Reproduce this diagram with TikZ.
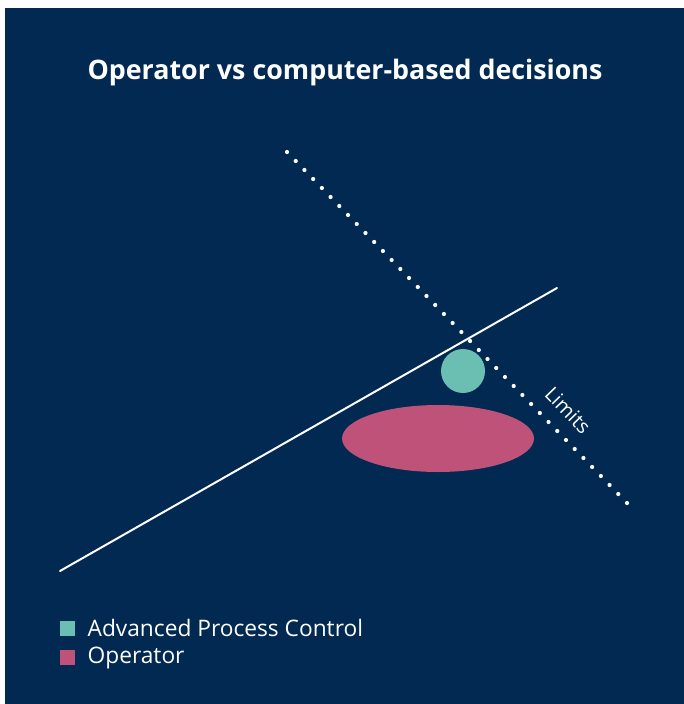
\documentclass[tikz,border=0pt]{standalone}
\usepackage{fontspec}
\setmainfont{Open Sans}
\usetikzlibrary{calc}
\definecolor{navy}{RGB}{1,41,82}
\definecolor{apcteal}{RGB}{107,190,178}
\definecolor{oprose}{RGB}{190,82,120}
\tikzset{
  keybox/.style={inner sep=0pt, minimum size=0.45cm},
  keytext/.style={anchor=west, text=white, font=\fontsize{19.4}{21}\selectfont},
}
\begin{document}
\begin{tikzpicture}[x=0.03cm, y=-0.03cm, line join=round, line cap=round]
	\def\w{684} \def\h{704} % page in px
	\useasboundingbox (0,0) rectangle (\w,\h);
	\fill[navy] (5,8) rectangle (\w,\h);
	\node[text=white, font=\bfseries\fontsize{22.9}{26}\selectfont] (title) at (345,73) {Operator vs computer-based decisions};
	% limits
	\coordinate (dA) at (287,152); \coordinate (dB) at (627,503);
	\foreach \i in {0,...,39} \fill[white] ($(dA)!\i/39!(dB)$) circle (2.1);
	\node[text=white, rotate=-46, inner sep=0pt, font=\fontsize{17}{18}\selectfont] (limits) at (568,410) {Limits};
	% trade-off line
	\coordinate (lA) at (60,571); \coordinate (lB) at (557,288);
	\draw[white, line width=1.7pt] (lA) -- (lB);
	\fill[apcteal] (463,371) circle (22);
	\fill[oprose] (438,438.5) ellipse [x radius=96, y radius=33.5];
	% legend
	\node[keybox, fill=apcteal] (apckey) at (67.5,628.5) {};
	\node[keytext] (apctext) at (83.5,628) {Advanced Process Control};
	\node[keybox, fill=oprose] (opkey) at (67.5,657) {};
	\node[keytext] (optext) at (83.5,658) {Operator};
\end{tikzpicture}
\end{document}
